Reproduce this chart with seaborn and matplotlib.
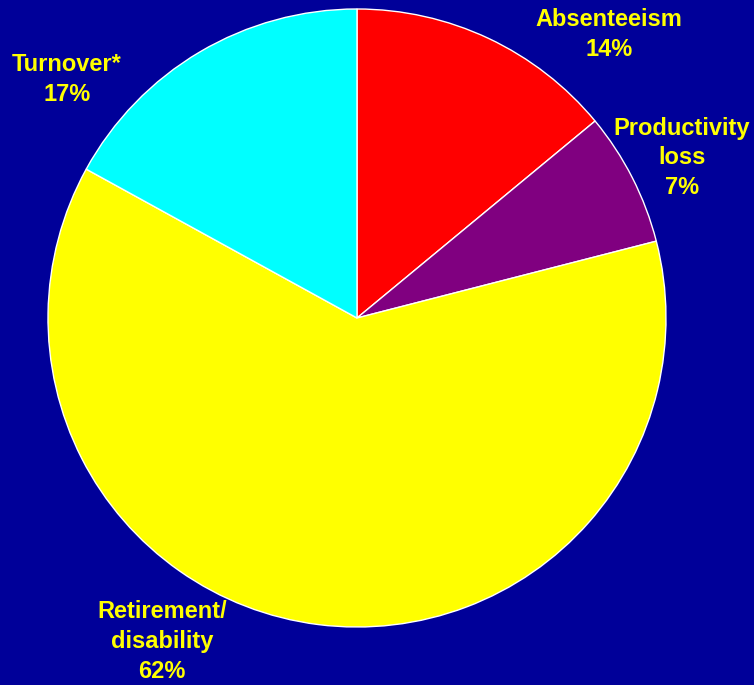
import matplotlib
matplotlib.use("Agg")
import matplotlib.pyplot as plt
import seaborn as sns

# Chart data
categories = ["Absenteeism", "Productivity\nloss", "Retirement/\ndisability", "Turnover*"]
shares = [14, 7, 62, 17]
colors = ["#FF0000", "#800080", "#FFFF00", "#00FFFF"]

# Label anchor points, in pie radius units
label_x = [0.816, 1.052, -0.631, -0.939]
label_y = [0.918, 0.518, -1.048, 0.772]

bg = "#000099"

sns.set_style("white")
plt.rcParams["font.family"] = ["Liberation Sans", "DejaVu Sans"]

fig = plt.figure(figsize=(7.54, 6.85), dpi=100, facecolor=bg)
ax = fig.add_axes([0, 0, 1, 1])
ax.set_facecolor(bg)

ax.pie(shares, colors=colors, startangle=90, counterclock=False,
       radius=1.0, wedgeprops=dict(edgecolor="white", linewidth=1.0))

for name, val, x, y in zip(categories, shares, label_x, label_y):
    ax.text(x, y, f"{name}\n{val}%", ha="center", va="center",
            color="#FFFF00", fontsize=17, fontweight="bold", linespacing=1.38)

ax.set_xlim(-357 / 309, (754 - 357) / 309)
ax.set_ylim(-(685 - 318) / 309, 318 / 309)
ax.set_aspect("equal")
ax.axis("off")

fig.savefig("out.png", dpi=100, facecolor=bg)
plt.close(fig)
